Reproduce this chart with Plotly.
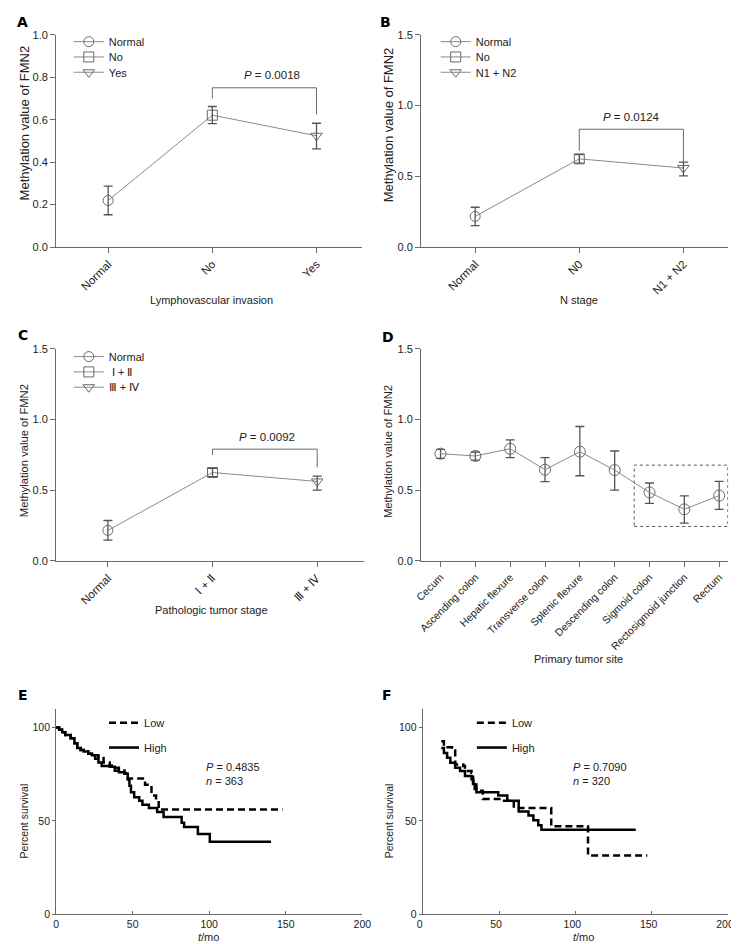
import plotly.graph_objects as go

W, H = 739, 944
FONT = "Liberation Sans, Arial, sans-serif"
GRAY = "#6a6a6a"
TXT = "#222222"


def px(x):
    return x / W


def py(y):
    return 1 - y / H


# ---------------- data ----------------
a_cats = ["Normal", "No", "Yes"]
a_legend = ["Normal", "No", "Yes"]
a_mean = [0.219, 0.621, 0.524]
a_err_hi = [0.068, 0.041, 0.059]
a_err_lo = [0.067, 0.040, 0.062]
a_p = "<i>P</i> = 0.0018"

b_cats = ["Normal", "N0", "N1 + N2"]
b_legend = ["Normal", "No", "N1 + N2"]
b_mean = [0.216, 0.623, 0.558]
b_err_hi = [0.065, 0.030, 0.042]
b_err_lo = [0.065, 0.030, 0.056]
b_p = "<i>P</i> = 0.0124"

c_cats = ["Normal", "Ⅰ + Ⅱ", "Ⅲ + Ⅳ"]
c_legend = ["Normal", " Ⅰ + Ⅱ", "Ⅲ + Ⅳ"]
c_mean = [0.216, 0.625, 0.562]
c_err_hi = [0.070, 0.030, 0.038]
c_err_lo = [0.069, 0.030, 0.062]
c_p = "<i>P</i> = 0.0092"

d_cats = ["Cecum", "Ascending colon", "Hepatic flexure", "Transverse colon",
          "Splenic flexure", "Descending colon", "Sigmoid colon",
          "Rectosigmoid junction", "Rectum"]
d_mean = [0.758, 0.742, 0.793, 0.645, 0.772, 0.642, 0.484, 0.365, 0.462]
d_err_hi = [0.030, 0.028, 0.062, 0.085, 0.178, 0.135, 0.067, 0.095, 0.100]
d_err_lo = [0.033, 0.030, 0.063, 0.085, 0.170, 0.142, 0.077, 0.098, 0.098]

sym3 = ["circle-open", "square-open", "triangle-down-open"]

# survival curves (time in months, percent survival after each step)
e_high_t = [0, 2, 4, 6, 9.5, 12, 13.8, 16, 18, 21, 23.4, 25.5, 27.7, 29.8, 35,
            38.3, 41, 44.7, 46.8, 47.9, 48.9, 51, 54.3, 56.4, 60.6, 66, 70.2,
            82, 83.6, 92.6, 100.4, 140.4]
e_high_s = [100, 99, 97.5, 96, 94.3, 91.5, 89, 88, 87.2, 86, 85.2, 83.2, 81.2,
            79.4, 79, 76.8, 76, 75.2, 72.2, 68.8, 65.3, 62.6, 60.8, 58.6, 56.8,
            54.7, 52, 48.9, 46.7, 42.9, 38.8, 38.8]
e_low_t = [0, 2, 4, 6, 9.5, 12, 13.8, 16, 18, 21, 23.4, 27.7, 31, 35, 38.3, 41,
           44.7, 46.8, 56.4, 58.1, 62.3, 65.3, 67, 147.9]
e_low_s = [100, 99, 97.5, 96, 94.3, 91.5, 89, 88, 87.2, 86, 85.2, 83.6, 81.2,
           79.6, 78.5, 77, 75.5, 72.7, 72.7, 69.3, 63.5, 60.8, 56, 56]
e_text = "<i>P</i> = 0.4835<br><i>n</i> = 363"

f_high_t = [12.2, 13.9, 16, 18.1, 21.3, 24.5, 27.7, 32, 33, 34.1, 35.2, 49.5,
            55.4, 62.9, 69.3, 72.5, 75.7, 77.8, 139.6]
f_high_s = [89, 86.4, 83.8, 81.1, 78.5, 76.7, 74, 72.3, 69.7, 67, 65.3, 63.5,
            60.8, 55, 52.9, 50.3, 47.6, 45.2, 45.2]
f_low_t = [12.2, 13.9, 19.2, 21.3, 26.6, 27.7, 32, 33, 35.2, 39.4, 53.3, 59.7,
           84.2, 108.3, 147.1]
f_low_s = [92.6, 89.4, 87.7, 80.2, 79.4, 76.7, 75.8, 71.4, 66.1, 61.7, 60.8,
           56.8, 47.1, 31.4, 31.4]
f_text = "<i>P</i> = 0.7090<br><i>n</i> = 320"

fig = go.Figure()

legend_counter = [0]
legend_layouts = {}


def new_legend(text_left, center_y):
    legend_counter[0] += 1
    n = legend_counter[0]
    key = "legend" if n == 1 else f"legend{n}"
    legend_layouts[key] = dict(
        x=px(text_left - 42), y=py(center_y), xanchor="left", yanchor="middle",
        bgcolor="rgba(0,0,0,0)", borderwidth=0, itemwidth=30,
        font=dict(family=FONT, size=11, color=TXT), tracegroupgap=0)
    return key


def cat_panel(xa, ya, cats, legend_names, mean, hi, lo, leg_left, leg_top):
    xs = list(range(len(cats)))
    fig.add_trace(go.Scatter(x=xs, y=mean, mode="lines", xaxis=xa, yaxis=ya,
                             line=dict(color="#8a8a8a", width=1),
                             showlegend=False, hoverinfo="skip"))
    for i, name in enumerate(legend_names):
        lg = new_legend(leg_left, leg_top + i * 15.5)
        fig.add_trace(go.Scatter(
            x=[xs[i]], y=[mean[i]], mode="lines+markers", name=name,
            xaxis=xa, yaxis=ya, legend=lg,
            line=dict(color="#8a8a8a", width=1),
            marker=dict(symbol=sym3[i], size=10,
                        color=GRAY, line=dict(color=GRAY, width=1)),
            error_y=dict(type="data", array=[hi[i]], arrayminus=[lo[i]],
                         color="#555555", thickness=1.3, width=4.5)))


cat_panel("x", "y", a_cats, a_legend, a_mean, a_err_hi, a_err_lo, 97, 28)
cat_panel("x2", "y2", b_cats, b_legend, b_mean, b_err_hi, b_err_lo, 472, 28)
cat_panel("x3", "y3", c_cats, c_legend, c_mean, c_err_hi, c_err_lo, 97, 347)

# panel D
fig.add_trace(go.Scatter(
    x=list(range(len(d_cats))), y=d_mean, mode="lines+markers",
    xaxis="x4", yaxis="y4", showlegend=False,
    line=dict(color="#8a8a8a", width=1),
    marker=dict(symbol="circle-open", size=11, color=GRAY,
                line=dict(color=GRAY, width=1)),
    error_y=dict(type="data", array=d_err_hi, arrayminus=d_err_lo,
                 color="#555555", thickness=1.3, width=4.5)))

# survival panels
for (xa, ya, lt, ls, ht, hs, leg_left) in [
        ("x5", "y5", e_low_t, e_low_s, e_high_t, e_high_s, 133),
        ("x6", "y6", f_low_t, f_low_s, f_high_t, f_high_s, 509)]:
    lg1 = new_legend(leg_left, 718)
    fig.add_trace(go.Scatter(x=lt, y=ls, mode="lines", name="Low",
                             xaxis=xa, yaxis=ya, legend=lg1,
                             line=dict(color="black", width=2.5, shape="hv",
                                       dash="7px,4px")))
    lg2 = new_legend(leg_left, 743)
    fig.add_trace(go.Scatter(x=ht, y=hs, mode="lines", name="High",
                             xaxis=xa, yaxis=ya, legend=lg2,
                             line=dict(color="black", width=2.5, shape="hv")))

# ---------------- axes ----------------
axis_common = dict(showline=True, linecolor=GRAY, linewidth=1, ticks="outside",
                   ticklen=5, tickcolor=GRAY, showgrid=False, zeroline=False,
                   tickfont=dict(family=FONT, size=11, color=TXT),
                   ticklabeloverflow="allow")


def cat_x(domain, rng, cats, anchor, size=11.5):
    d = dict(axis_common)
    d.update(domain=domain, range=rng, tickmode="array",
             tickvals=list(range(len(cats))), ticktext=cats, tickangle=-45,
             anchor=anchor, tickfont=dict(family=FONT, size=size, color=TXT))
    return d


def val_y(domain, rng, dtick, anchor, fmt=".1f"):
    d = dict(axis_common)
    d.update(domain=domain, range=rng, dtick=dtick, tick0=0, tickformat=fmt,
             anchor=anchor)
    return d


layout = dict(
    width=W, height=H, margin=dict(l=0, r=0, t=0, b=0),
    paper_bgcolor="white", plot_bgcolor="white",
    font=dict(family=FONT, size=11, color=TXT),
    xaxis=cat_x([px(42), px(355)], [-0.5, 2.44], a_cats, "y"),
    yaxis=val_y([py(236), py(21)], [0, 1.0], 0.2, "x"),
    xaxis2=cat_x([px(415), px(729)], [-0.52, 2.43], b_cats, "y2"),
    yaxis2=val_y([py(236), py(21)], [0, 1.5], 0.5, "x2"),
    xaxis3=cat_x([px(42), px(357)], [-0.495, 2.45], c_cats, "y3"),
    yaxis3=val_y([py(554), py(339)], [0, 1.5], 0.5, "x3"),
    xaxis4=cat_x([px(415), px(729)], [-0.56, 8.26], d_cats, "y4", size=10.5),
    yaxis4=val_y([py(554), py(339)], [0, 1.5], 0.5, "x4"),
)
surv_x = dict(axis_common)
surv_x.update(range=[0, 200], tickvals=[0, 50, 100, 150, 200], ticklen=3,
              ticks="inside", tickfont=dict(family=FONT, size=10.5, color=TXT))
surv_y = dict(axis_common)
surv_y.update(range=[0, 110], tickvals=[0, 50, 100], ticklen=3,
              tickfont=dict(family=FONT, size=10.5, color=TXT))
layout["xaxis5"] = dict(surv_x, domain=[px(42), px(355)], anchor="y5")
layout["yaxis5"] = dict(surv_y, domain=[py(911.7), py(703.8)], anchor="x5")
layout["xaxis6"] = dict(surv_x, domain=[px(416.7), px(728.8)], anchor="y6",
                        ticklabelshift=-3)
layout["yaxis6"] = dict(surv_y, domain=[py(911.7), py(703.8)], anchor="x6")
layout.update(legend_layouts)
fig.update_layout(**layout)

# ---------------- brackets & p-values ----------------
brackets = [("x", "y", 0.70, 0.75, 0.625, 1.57, 0.809, a_p),
            ("x2", "y2", 0.68, 0.832, 0.60, 1.50, 0.921, b_p),
            ("x3", "y3", 0.749, 0.790, 0.661, 1.52, 0.877, c_p)]
for xa, ya, yl, ytop, yr, tx, ty, txt in brackets:
    fig.add_shape(type="path", xref=xa, yref=ya,
                  path=f"M 1,{yl} L 1,{ytop} L 2,{ytop} L 2,{yr}",
                  line=dict(color=GRAY, width=1))
    fig.add_annotation(x=tx, y=ty, xref=xa, yref=ya, text=txt, showarrow=False,
                       font=dict(family=FONT, size=11.5, color=TXT))

# dashed box in panel D
fig.add_shape(type="rect", xref="x4", yref="y4", x0=5.56, x1=8.25,
              y0=0.244, y1=0.677, line=dict(color="#555555", width=1, dash="dot"))

# P / n text in survival panels
for x0, txt in [(193, e_text), (568, f_text)]:
    fig.add_annotation(x=px(x0), y=py(769.5), xref="paper", yref="paper",
                       text=txt, showarrow=False, xanchor="left",
                       yanchor="middle", align="left",
                       font=dict(family=FONT, size=11, color=TXT))

# axis titles
xtitles = [("Lymphovascular invasion", 201, 290), ("N stage", 576, 290),
           ("Pathologic tumor stage", 201, 604), ("Primary tumor site", 576, 653),
           ("<i>t</i>/mo", 198, 935), ("<i>t</i>/mo", 581, 935)]
for txt, x0, y0 in xtitles:
    fig.add_annotation(x=px(x0), y=py(y0), xref="paper", yref="paper",
                       text=txt, showarrow=False, xanchor="center",
                       yanchor="middle",
                       font=dict(family=FONT, size=11, color=TXT))

ytitles = [("Methylation value of FMN2", 10, 110, 13.0),
           ("Methylation value of FMN2", 382, 112, 13.0),
           ("Methylation value of FMN2", 10, 442, 11.2),
           ("Methylation value of FMN2", 382, 443, 11.2),
           ("Percent survival", 9, 817, 10.5),
           ("Percent survival", 382, 817, 10.5)]
for txt, x0, y0, sz in ytitles:
    fig.add_annotation(x=px(x0), y=py(y0), xref="paper", yref="paper",
                       text=txt, showarrow=False, textangle=-90,
                       xanchor="center", yanchor="middle",
                       font=dict(family=FONT, size=sz, color=TXT))

letters = [("A", 8, 8), ("B", 379, 8), ("C", 8, 325), ("D", 381, 327),
           ("E", 8, 690), ("F", 380, 690)]
for txt, x0, y0 in letters:
    fig.add_annotation(x=px(x0), y=py(y0), xref="paper", yref="paper",
                       text=f"<b>{txt}</b>", showarrow=False,
                       xanchor="center", yanchor="middle",
                       font=dict(family="DejaVu Sans, sans-serif", size=14,
                                 color="black"))

fig.write_html("out.html")
